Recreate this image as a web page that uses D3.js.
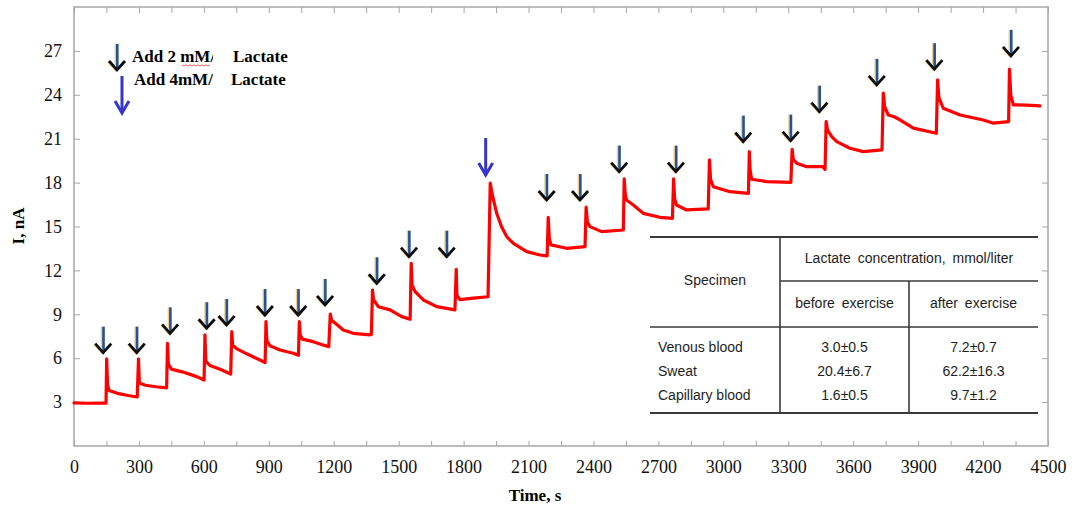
<!DOCTYPE html>
<html>
<head>
<meta charset="utf-8">
<script src="https://cdn.jsdelivr.net/npm/d3@7"></script>
<style>
  html, body { margin: 0; padding: 0; background: #fff; }
  svg { display: block; }
</style>
</head>
<body>
<svg id="chart" width="1072" height="512"></svg>
<script>
// Amperometric response of the lactate sensor: time (s) and current (nA)
const timeS = [
  0, 60, 120, 148,
  151, 155, 162, 200, 250, 292,
  298, 302, 330, 380, 428,
  432, 436, 450, 504, 567, 601,
  605, 609, 628, 675, 724,
  729, 733, 751, 798, 859, 883,
  887, 891, 905, 952, 1013, 1037,
  1041, 1045, 1055, 1105, 1151, 1177,
  1184, 1190, 1206, 1244, 1290, 1368, 1374,
  1379, 1384, 1406, 1460, 1514, 1553,
  1558, 1562, 1576, 1614, 1676, 1760,
  1766, 1769, 1783, 1845, 1913,
  1923, 1935, 1953, 1975, 1999, 2030, 2092, 2153, 2186,
  2191, 2196, 2203, 2276, 2361,
  2366, 2372, 2384, 2438, 2538,
  2542, 2547, 2553, 2584, 2630, 2707, 2765,
  2770, 2775, 2784, 2830, 2930,
  2936, 2941, 2954, 3031, 3116,
  3120, 3124, 3131, 3200, 3312,
  3318, 3323, 3339, 3385, 3460, 3470,
  3475, 3481, 3501, 3524, 3585, 3647, 3733,
  3739, 3745, 3762, 3790, 3816, 3878, 3984,
  3990, 3996, 4016, 4094, 4201, 4248, 4318,
  4322, 4328, 4340, 4400, 4463
];
const currentNA = [
  2.95, 2.92, 2.94, 2.93,
  5.95, 4.2, 3.8, 3.6, 3.45, 3.35,
  5.95, 4.3, 4.15, 4.05, 3.97,
  7.02, 5.6, 5.25, 5.05, 4.74, 4.51,
  7.59, 5.8, 5.5, 5.25, 4.92,
  7.81, 6.9, 6.65, 6.3, 5.88, 5.7,
  8.5, 7.2, 6.85, 6.56, 6.34, 6.2,
  8.5, 7.6, 7.3, 7.13, 6.9, 6.79,
  9.02, 8.6, 8.4, 7.93, 7.7, 7.6, 7.62,
  10.66, 10.0, 9.52, 9.3, 8.84, 8.66,
  12.49, 11.0, 10.55, 9.98, 9.52, 9.3,
  12.08, 10.3, 10.0, 10.1, 10.2,
  17.96, 17.0, 15.9, 15.0, 14.31, 13.85, 13.28, 13.05, 12.99,
  15.63, 14.2, 13.74, 13.51, 13.62,
  16.32, 15.3, 14.99, 14.65, 14.76,
  18.25, 17.2, 16.81, 16.47, 15.9, 15.63, 15.56,
  18.25, 16.9, 16.47, 16.13, 16.2,
  19.55, 18.2, 17.72, 17.38, 17.27,
  20.12, 18.8, 18.23, 18.07, 18.02,
  20.28, 19.6, 19.32, 19.09, 19.1, 18.9,
  22.17, 21.6, 21.14, 20.8, 20.35, 20.12, 20.23,
  24.11, 23.2, 22.62, 22.5, 22.28, 21.72, 21.37,
  25.02, 23.8, 23.08, 22.62, 22.28, 22.06, 22.17,
  25.75, 24.0, 23.31, 23.3, 23.24
];

// Lactate additions: time of the arrow, current level at the arrow tip, dose (mM)
const additionTimes = [135, 290, 444, 613, 705, 882, 1036, 1160, 1399, 1548, 1722,
  1902, 2184, 2338, 2519, 2781, 3092, 3311, 3444, 3709, 3975, 4329];
const additionLevels = [6.38, 6.38, 7.7, 8.05, 8.27, 8.95, 8.95, 9.64, 11.12, 12.94, 12.94,
  18.52, 16.81, 16.81, 18.75, 18.75, 20.8, 20.87, 22.85, 24.68, 25.75, 26.66];
const additionDose = [2, 2, 2, 2, 2, 2, 2, 2, 2, 2, 2,
  4, 2, 2, 2, 2, 2, 2, 2, 2, 2, 2];

// Axis ticks
const xTickValues = d3.range(0, 4501, 150);
const xLabelStep = 300;
const yTickValues = [3, 6, 9, 12, 15, 18, 21, 24, 27];

// Inset table
const tableHeader = "Lactate concentration, mmol/liter";
const tableSubHeaders = ["before exercise", "after exercise"];
const specimens = ["Venous blood", "Sweat", "Capillary blood"];
const beforeExercise = ["3.0±0.5", "20.4±6.7", "1.6±0.5"];
const afterExercise = ["7.2±0.7", "62.2±16.3", "9.7±1.2"];

const svg = d3.select("#chart");
const plotLeft = 74, plotRight = 1048, plotTop = 7, plotBottom = 446;

const x = d3.scaleLinear().domain([0, 4500]).range([plotLeft, plotRight]);
const y = d3.scaleLinear().domain([0, 30]).range([plotBottom, plotTop]);

const serif = "'Liberation Serif', 'Times New Roman', serif";
const sans = "'Liberation Sans', Arial, sans-serif";
const frameColor = "#a6a6a6";

// Axes with inward ticks
const gx = svg.append("g").attr("transform", `translate(0,${plotBottom})`)
  .call(d3.axisBottom(x).tickValues(xTickValues).tickSizeInner(-5).tickSizeOuter(0).tickPadding(14)
    .tickFormat(d => d % xLabelStep === 0 ? d : ""));
const gxTop = svg.append("g").attr("transform", `translate(0,${plotTop})`)
  .call(d3.axisTop(x).tickValues(xTickValues).tickSizeInner(-6).tickSizeOuter(0).tickFormat(""));
const gy = svg.append("g").attr("transform", `translate(${plotLeft},0)`)
  .call(d3.axisLeft(y).tickValues(yTickValues).tickSizeInner(-6).tickSizeOuter(0).tickPadding(12));
const gyRight = svg.append("g").attr("transform", `translate(${plotRight},0)`)
  .call(d3.axisRight(y).tickValues(yTickValues).tickSizeInner(-6).tickSizeOuter(0).tickFormat(""));

[gx, gxTop, gy, gyRight].forEach(g => {
  g.select(".domain").remove();
  g.selectAll(".tick line").attr("stroke", frameColor).attr("stroke-width", 1);
  g.selectAll(".tick text").attr("fill", "#111").style("font-family", serif).style("font-size", "18px");
});

// Plot frame
svg.append("rect")
  .attr("x", plotLeft).attr("y", plotTop)
  .attr("width", plotRight - plotLeft).attr("height", plotBottom - plotTop)
  .attr("fill", "none").attr("stroke", frameColor).attr("stroke-width", 1.5);

// Axis titles
svg.append("text")
  .attr("x", (plotLeft + plotRight) / 2 - 26).attr("y", 501)
  .attr("text-anchor", "middle")
  .style("font-family", serif).style("font-size", "17px").style("font-weight", "bold")
  .text("Time, s");
svg.append("text")
  .attr("transform", "translate(24,226) rotate(-90)")
  .attr("text-anchor", "middle")
  .style("font-family", serif).style("font-size", "17px").style("font-weight", "bold")
  .text("I, nA");

// Current trace
const trace = timeS.map((t, i) => [t, currentNA[i]]);
svg.append("path")
  .datum(trace)
  .attr("fill", "none")
  .attr("stroke", "#ff0000")
  .attr("stroke-width", 3.2)
  .attr("stroke-linejoin", "round")
  .attr("stroke-linecap", "round")
  .attr("d", d3.line().x(d => x(d[0])).y(d => y(d[1])));

// Arrow glyphs
function smallArrow(g, cx, tipY) {
  const len = 26;
  g.append("line").attr("x1", cx - 1.4).attr("x2", cx - 1.4).attr("y1", tipY - len).attr("y2", tipY - 5)
    .attr("stroke", "#f1c88c").attr("stroke-width", 2);
  g.append("line").attr("x1", cx + 0.3).attr("x2", cx + 0.3).attr("y1", tipY - len).attr("y2", tipY - 2)
    .attr("stroke", "#24538f").attr("stroke-width", 2.6);
  g.append("path")
    .attr("d", `M${cx - 8},${tipY - 9} L${cx},${tipY} L${cx + 8},${tipY - 9}`)
    .attr("fill", "none").attr("stroke", "#f1c88c").attr("stroke-width", 1.4)
    .attr("transform", "translate(-1,1)");
  g.append("path")
    .attr("d", `M${cx - 8},${tipY - 9} L${cx},${tipY} L${cx + 8},${tipY - 9}`)
    .attr("fill", "none").attr("stroke", "#0d0d0d").attr("stroke-width", 2.8)
    .attr("stroke-linejoin", "miter");
}
function bigArrow(g, cx, tipY) {
  const len = 37;
  g.append("line").attr("x1", cx).attr("x2", cx).attr("y1", tipY - len).attr("y2", tipY - 2)
    .attr("stroke", "#3535c8").attr("stroke-width", 3);
  g.append("path")
    .attr("d", `M${cx - 7},${tipY - 12} L${cx},${tipY} L${cx + 7},${tipY - 12}`)
    .attr("fill", "none").attr("stroke", "#3535c8").attr("stroke-width", 3)
    .attr("stroke-linejoin", "miter");
}

const arrows = svg.append("g");
additionTimes.forEach((t, i) => {
  if (additionDose[i] === 4) bigArrow(arrows, x(t), y(additionLevels[i]));
  else smallArrow(arrows, x(t), y(additionLevels[i]));
});

// Legend
const legend = svg.append("g").style("font-family", serif).style("font-size", "17px").style("font-weight", "bold");
smallArrow(legend, 117, 70);
bigArrow(legend, 122, 113);
legend.append("clipPath").attr("id", "legendClip")
  .append("rect").attr("x", 120).attr("y", 40).attr("width", 93).attr("height", 60);
legend.append("text").attr("x", 132).attr("y", 62).attr("clip-path", "url(#legendClip)").text("Add 2 mM/");
legend.append("text").attr("x", 233).attr("y", 62).text("Lactate");
legend.append("text").attr("x", 134).attr("y", 85).attr("clip-path", "url(#legendClip)").text("Add 4mM/");
legend.append("text").attr("x", 231).attr("y", 85).text("Lactate");
// spell-check squiggle under "mM"
const squiggle = d3.range(0, 15).map(i => [182 + i * 2, 65 + (i % 2 ? 1 : -0.2)]);
legend.append("path").attr("d", d3.line()(squiggle))
  .attr("fill", "none").attr("stroke", "#e03030").attr("stroke-width", 0.8);

// Inset table
const table = svg.append("g").style("font-family", sans).style("font-size", "14px").attr("fill", "#1e1e1e");
const tL = 650, tR = 1038, c1 = 780, c2 = 909;
const rTop = 237, rMid = 281, rHead = 327, rBot = 413;
const lineColor = "#3a3a3a";
table.append("line").attr("x1", tL).attr("x2", tR).attr("y1", rTop).attr("y2", rTop).attr("stroke", lineColor).attr("stroke-width", 2);
table.append("line").attr("x1", c1).attr("x2", tR).attr("y1", rMid).attr("y2", rMid).attr("stroke", lineColor).attr("stroke-width", 1.6);
table.append("line").attr("x1", tL).attr("x2", tR).attr("y1", rHead).attr("y2", rHead).attr("stroke", lineColor).attr("stroke-width", 1.6);
table.append("line").attr("x1", tL).attr("x2", tR).attr("y1", rBot).attr("y2", rBot).attr("stroke", lineColor).attr("stroke-width", 2);
table.append("line").attr("x1", c1).attr("x2", c1).attr("y1", rTop).attr("y2", rBot).attr("stroke", lineColor).attr("stroke-width", 1.6);
table.append("line").attr("x1", c2).attr("x2", c2).attr("y1", rMid).attr("y2", rBot).attr("stroke", lineColor).attr("stroke-width", 1.6);

table.append("text").attr("x", (tL + c1) / 2).attr("y", 285).attr("text-anchor", "middle").style("word-spacing", "1px").text("Specimen");
table.append("text").attr("x", (c1 + tR) / 2).attr("y", 263).attr("text-anchor", "middle").style("word-spacing", "3px").text(tableHeader);
table.append("text").attr("x", (c1 + c2) / 2).attr("y", 308).attr("text-anchor", "middle").style("word-spacing", "3px").text(tableSubHeaders[0]);
table.append("text").attr("x", (c2 + tR) / 2).attr("y", 308).attr("text-anchor", "middle").style("word-spacing", "3px").text(tableSubHeaders[1]);
const rowY = [352, 376, 400];
specimens.forEach((s, i) => {
  table.append("text").attr("x", 658).attr("y", rowY[i]).text(s);
  table.append("text").attr("x", (c1 + c2) / 2).attr("y", rowY[i]).attr("text-anchor", "middle").text(beforeExercise[i]);
  table.append("text").attr("x", (c2 + tR) / 2).attr("y", rowY[i]).attr("text-anchor", "middle").text(afterExercise[i]);
});
</script>
</body>
</html>
